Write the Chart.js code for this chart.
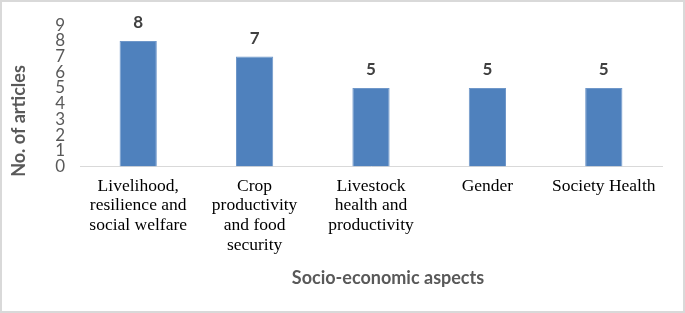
<!DOCTYPE html>
<html>
<head>
<meta charset="utf-8">
<script src="https://cdn.jsdelivr.net/npm/chart.js@4"></script>
<style>
  html, body { margin: 0; padding: 0; background: #fff; }
  #wrap { position: relative; width: 685px; height: 313px; }
  #wrap::after { content: ''; position: absolute; inset: 0; border: 2px solid #d9d9d9; pointer-events: none; }
</style>
</head>
<body>
<div id="wrap"><canvas id="aspectChart"></canvas></div>
<script>
const categories = [
    ['Livelihood,', 'resilience and', 'social welfare'],
    ['Crop', 'productivity', 'and food', 'security'],
    ['Livestock', 'health and', 'productivity'],
    ['Gender'],
    ['Society Health']
];
const articleCounts = [8, 7, 5, 5, 5];
const yTicks = [0, 1, 2, 3, 4, 5, 6, 7, 8, 9];
const xTitle = 'Socio-economic aspects';
const yTitle = 'No. of articles';

// value labels above bars + axis titles placed like the original
const labelsPlugin = {
    id: 'labels',
    afterDatasetsDraw(chart) {
        const ctx = chart.ctx;
        const meta = chart.getDatasetMeta(0);
        ctx.save();
        ctx.font = 'bold 17px Lato';
        ctx.fillStyle = '#404040';
        ctx.textAlign = 'center';
        ctx.textBaseline = 'alphabetic';
        meta.data.forEach((bar, i) => {
            ctx.fillText(String(articleCounts[i]), bar.x, bar.y - 13);
        });
        ctx.restore();
    },
    afterDraw(chart) {
        const ctx = chart.ctx;
        ctx.save();
        ctx.font = 'bold 18px Lato';
        ctx.fillStyle = '#595959';
        ctx.textAlign = 'center';
        ctx.textBaseline = 'middle';
        ctx.fillText(xTitle, 388, 278);
        ctx.translate(19, 121);
        ctx.rotate(-Math.PI / 2);
        ctx.fillText(yTitle, 0, 0);
        ctx.restore();
    }
};

new Chart(document.getElementById('aspectChart').getContext('2d'), {
    type: 'bar',
    data: {
        labels: categories,
        datasets: [{
            label: yTitle,
            data: articleCounts,
            backgroundColor: '#4f81bd',
            borderColor: '#6f97c9',
            borderWidth: 1,
            categoryPercentage: 1,
            barPercentage: 0.32
        }]
    },
    options: {
        responsive: true,
        maintainAspectRatio: false,
        animation: false,
        layout: { padding: { left: 0, top: 18, right: 23, bottom: 46.5 } },
        plugins: {
            legend: { display: false },
            tooltip: { enabled: false }
        },
        scales: {
            x: {
                grid: { display: false, drawTicks: false },
                border: { display: true, color: '#d9d9d9', width: 1 },
                ticks: {
                    color: '#000',
                    font: { family: '"Liberation Serif"', size: 17.5, lineHeight: 1.12 },
                    padding: 10,
                    maxRotation: 0,
                    autoSkip: false
                },
                afterFit(scale) { scale.height = 100; }
            },
            y: {
                min: 0,
                max: 9,
                grid: { display: false, drawTicks: false },
                border: { display: false },
                afterBuildTicks(scale) { scale.ticks = yTicks.map(v => ({ value: v })); },
                ticks: {
                    color: '#595959',
                    font: { family: 'Lato', size: 17 },
                    padding: 15,
                    autoSkip: false
                },
                afterFit(scale) { scale.width = 80; }
            }
        }
    },
    plugins: [labelsPlugin]
});
</script>
</body>
</html>
